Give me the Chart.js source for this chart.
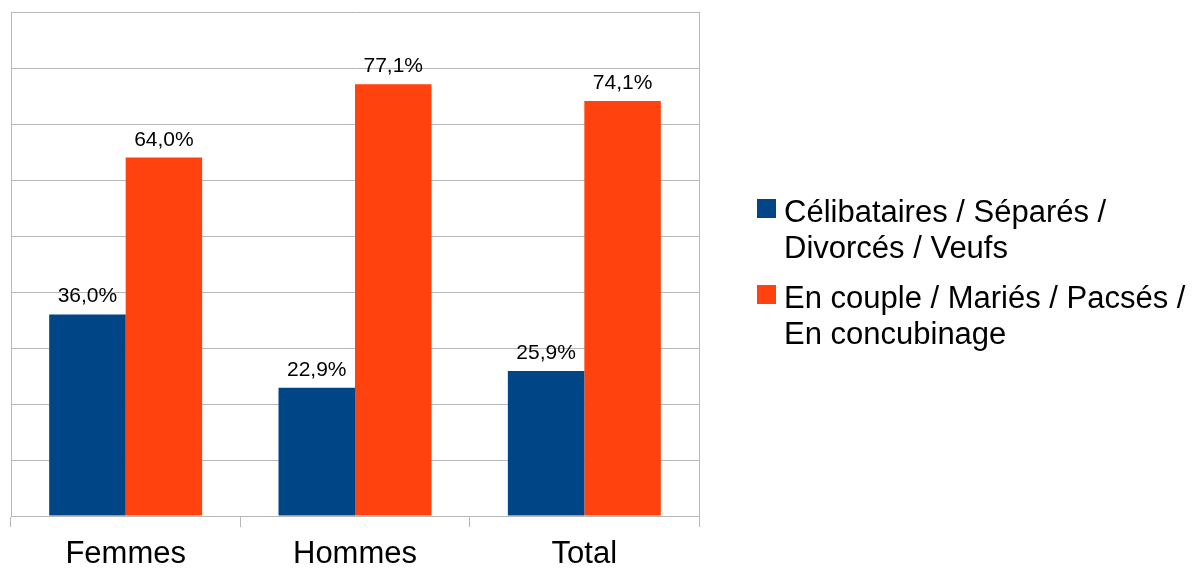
<!DOCTYPE html>
<html>
<head>
<meta charset="utf-8">
<script src="https://cdn.jsdelivr.net/npm/chart.js@4/dist/chart.umd.min.js"></script>
<style>
html,body{margin:0;padding:0;background:#fff;overflow:hidden;}
#wrap{width:1192px;height:569px;position:relative;}
</style>
</head>
<body>
<div id="wrap"><canvas id="c" width="1192" height="569"></canvas></div>
<script>
const categories = ["Femmes", "Hommes", "Total"];
const seriesCelib = [36.0, 22.9, 25.9];
const seriesCouple = [64.0, 77.1, 74.1];
const legendCelib = ["Célibataires / Séparés /", "Divorcés / Veufs"];
const legendCouple = ["En couple / Mariés / Pacsés /", "En concubinage"];
const yTicks = [0, 10, 20, 30, 40, 50, 60, 70, 80, 90];

const FONT = "'Liberation Sans', Arial, sans-serif";
const GRID = "#b8b8b8";

const dataLabels = {
  id: 'dataLabels',
  afterDatasetsDraw(chart) {
    const ctx = chart.ctx;
    ctx.save();
    ctx.font = "21px " + FONT;
    ctx.fillStyle = "#000";
    ctx.textAlign = "center";
    ctx.textBaseline = "alphabetic";
    chart.data.datasets.forEach((ds, i) => {
      chart.getDatasetMeta(i).data.forEach((bar, j) => {
        const txt = ds.data[j].toFixed(1).replace('.', ',') + '%';
        ctx.fillText(txt, bar.x, bar.y - 12);
      });
    });
    ctx.restore();
  }
};

const frame = {
  id: 'frame',
  beforeDatasetsDraw(chart) {
    const a = chart.chartArea, ctx = chart.ctx;
    ctx.save();
    ctx.strokeStyle = GRID;
    ctx.lineWidth = 1;
    ctx.beginPath();
    ctx.moveTo(Math.round(a.right) + 0.5, a.top);
    ctx.lineTo(Math.round(a.right) + 0.5, a.bottom);
    ctx.stroke();
    ctx.restore();
  }
};

const customLegend = {
  id: 'customLegend',
  afterDraw(chart) {
    const ctx = chart.ctx;
    ctx.save();
    ctx.font = "31px " + FONT;
    ctx.textAlign = "left";
    ctx.textBaseline = "alphabetic";
    const baselines = [222, 308];
    chart.data.datasets.forEach((ds, i) => {
      const b = baselines[i];
      ctx.fillStyle = ds.backgroundColor;
      ctx.fillRect(757, b - 23, 19, 19);
      ctx.fillStyle = "#000";
      ds.legendLines.forEach((line, k) => {
        ctx.fillText(line, 784, b + k * 36);
      });
    });
    ctx.restore();
  }
};

new Chart(document.getElementById('c'), {
  type: 'bar',
  data: {
    labels: categories,
    datasets: [
      { label: legendCelib.join(' '), legendLines: legendCelib, data: seriesCelib, backgroundColor: '#004586' },
      { label: legendCouple.join(' '), legendLines: legendCouple, data: seriesCouple, backgroundColor: '#ff420e' }
    ]
  },
  options: {
    responsive: false,
    animation: false,
    devicePixelRatio: 1,
    layout: { padding: { left: 11, top: 12, right: 493, bottom: 0 } },
    datasets: { bar: { categoryPercentage: 0.667, barPercentage: 1.0 } },
    plugins: {
      legend: { display: false },
      tooltip: { enabled: false }
    },
    scales: {
      x: {
        afterFit(scale) { scale.height = 53; },
        grid: { display: true, drawOnChartArea: false, drawTicks: true, tickLength: 11, color: GRID, offset: true },
        border: { display: true, color: GRID },
        ticks: { font: { family: FONT, size: 31 }, color: '#000', padding: 9, maxRotation: 0 }
      },
      y: {
        min: 0, max: 90,
        afterBuildTicks(scale) { scale.ticks = yTicks.map(v => ({ value: v })); },
        grid: { color: GRID, drawTicks: false },
        border: { display: true, color: GRID },
        ticks: { display: false }
      }
    }
  },
  plugins: [frame, dataLabels, customLegend]
});
</script>
</body>
</html>
